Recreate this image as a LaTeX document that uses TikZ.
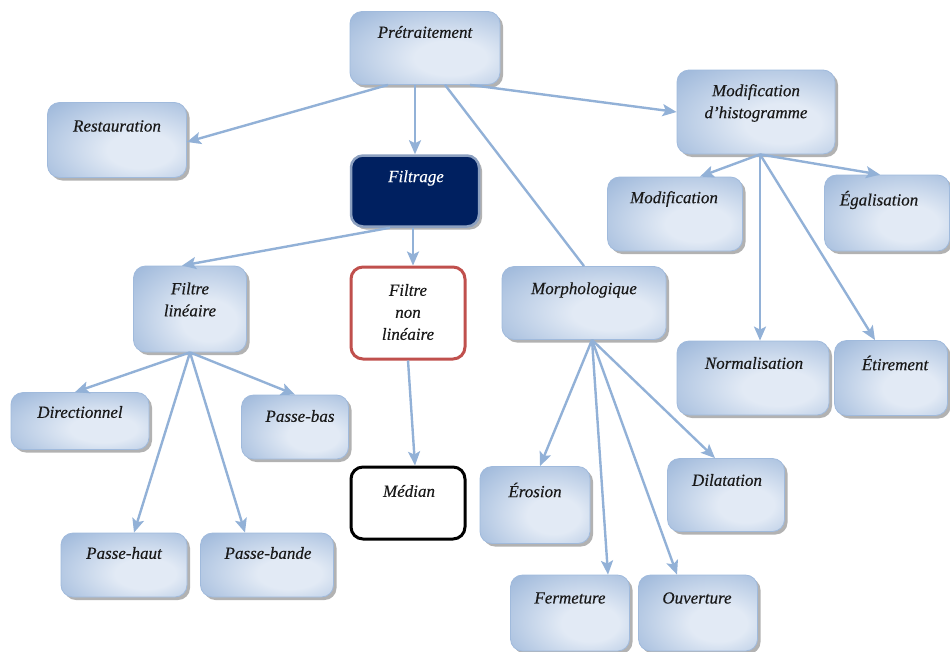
\documentclass[tikz,border=0pt]{standalone}
\usepackage{fontspec}
\setmainfont{Liberation Serif}[ItalicFeatures={FakeBold=0.35}]
\usetikzlibrary{shadows,arrows.meta}
\definecolor{boxout}{RGB}{136,168,210}
\definecolor{boxin}{RGB}{226,234,245}
\definecolor{boxline}{RGB}{160,186,220}
\definecolor{arrc}{RGB}{146,177,215}
\definecolor{navy}{RGB}{0,32,96}
\definecolor{navyline}{RGB}{140,160,192}
\definecolor{redb}{RGB}{192,80,77}
\pgfdeclareradialshading{boxshade}{\pgfpoint{10bp}{-8bp}}{color(0bp)=(boxin); color(12bp)=(boxin); color(50bp)=(boxout); color(80bp)=(boxout)}
\begin{document}
\begin{tikzpicture}[x=1pt,y=-1pt,
  bluebox/.style={rounded corners=12pt, shading=boxshade, draw=boxline, line width=0.8pt,
    drop shadow={shadow xshift=3pt,shadow yshift=-3pt,fill=black,opacity=0.3}, inner sep=0pt},
  navybox/.style={rounded corners=12pt, fill=navy, draw=navyline, line width=2.5pt,
    drop shadow={shadow xshift=3pt,shadow yshift=-3pt,fill=black,opacity=0.3}, inner sep=0pt},
  redbox/.style={rounded corners=12pt, fill=white, draw=redb, line width=3pt, inner sep=0pt},
  blackbox/.style={rounded corners=12pt, fill=white, draw=black, line width=3pt, inner sep=0pt},
  lbl/.style={font=\fontsize{17}{22}\selectfont\itshape, align=center, inner sep=0pt, text=black!90},
  arr/.style={draw=arrc, line width=2.4pt, -{Stealth[length=14pt,width=12pt,inset=3pt]}},
  plainline/.style={draw=arrc, line width=2.4pt}]
\useasboundingbox (0,0) rectangle (950,651);

% boxes
\node[bluebox, minimum width=150pt, minimum height=73pt] (pre) at (425,48) {};
\node[bluebox, minimum width=139pt, minimum height=75pt] (rest) at (117,140) {};
\node[navybox, minimum width=128pt, minimum height=71pt] (filt) at (415,191) {};
\node[bluebox, minimum width=158pt, minimum height=84pt] (modh) at (756,112) {};
\node[bluebox, minimum width=135pt, minimum height=74pt] (modif) at (675,214) {};
\node[bluebox, minimum width=125pt, minimum height=76pt] (egal) at (887,213) {};
\node[bluebox, minimum width=113pt, minimum height=86pt] (flin) at (190,309) {};
\node[redbox, minimum width=114pt, minimum height=92pt] (fnl) at (408,313) {};
\node[bluebox, minimum width=164pt, minimum height=73pt] (morph) at (584,303) {};
\node[bluebox, minimum width=138pt, minimum height=57pt] (dir) at (80,421) {};
\node[bluebox, minimum width=107pt, minimum height=64pt] (pbas) at (295,427) {};
\node[bluebox, minimum width=152pt, minimum height=74pt] (norm) at (753,378) {};
\node[bluebox, minimum width=113pt, minimum height=75pt] (etir) at (891,378) {};
\node[blackbox, minimum width=114pt, minimum height=72pt] (med) at (408,503) {};
\node[bluebox, minimum width=110pt, minimum height=77pt] (eros) at (535,505) {};
\node[bluebox, minimum width=117pt, minimum height=73pt] (dil) at (726,495) {};
\node[bluebox, minimum width=126pt, minimum height=64pt] (phaut) at (124,565) {};
\node[bluebox, minimum width=133pt, minimum height=64pt] (pband) at (267,565) {};
\node[bluebox, minimum width=119pt, minimum height=76pt] (ferm) at (570,613) {};
\node[bluebox, minimum width=119pt, minimum height=76pt] (ouv) at (698,613) {};

% labels
\node[lbl] (pre-t) at (425,32) {Prétraitement};
\node[lbl] (rest-t) at (117,126) {Restauration};
\node[lbl, text=white] (filt-t) at (416,178) {Filtrage};
\node[lbl] (modh-t) at (756,103) {Modification\\d'histogramme};
\node[lbl] (modif-t) at (674,199) {Modification};
\node[lbl] (egal-t) at (879,200) {Égalisation};
\node[lbl] (flin-t) at (190,299.5) {Filtre\\linéaire};
\node[lbl] (fnl-t) at (408,312) {Filtre\\non\\linéaire};
\node[lbl] (morph-t) at (584,290) {Morphologique};
\node[lbl] (dir-t) at (80,412) {Directionnel};
\node[lbl] (pbas-t) at (300,416) {Passe-bas};
\node[lbl] (norm-t) at (754,363) {Normalisation};
\node[lbl] (etir-t) at (895,363) {Étirement};
\node[lbl] (med-t) at (409,491) {Médian};
\node[lbl] (eros-t) at (535,490) {Érosion};
\node[lbl] (dil-t) at (727,480) {Dilatation};
\node[lbl] (phaut-t) at (124,553) {Passe-haut};
\node[lbl] (pband-t) at (268,553) {Passe-bande};
\node[lbl] (ferm-t) at (570,598) {Fermeture};
\node[lbl] (ouv-t) at (697,598) {Ouverture};

% connectors
\draw[arr] ([xshift=-37pt]pre.south) -- ([yshift=-2pt]rest.east);
\draw[arr] (filt.north |- pre.south) -- (filt.north);
\draw[plainline] ([xshift=20pt]pre.south) -- (morph.north);
\draw[arr] ([xshift=45pt]pre.south) -- (modh.west);
\draw[arr] ([xshift=-25pt]filt.south) -- ([xshift=-8pt]flin.north);
\draw[arr] ([xshift=-2pt]filt.south) -- ([xshift=5pt]fnl.north);
\draw[arr] (flin.south) -- ([xshift=-5pt]dir.north);
\draw[arr] (flin.south) -- (pbas.north);
\draw[arr] (flin.south) -- ([xshift=10pt]phaut.north);
\draw[arr] (flin.south) -- ([xshift=-22pt]pband.north);
\draw[arr] (fnl.south) -- ([xshift=7pt]med.north);
\draw[arr] ([xshift=8pt]morph.south) -- ([xshift=5pt]eros.north);
\draw[arr] ([xshift=8pt]morph.south) -- ([xshift=38pt]ferm.north);
\draw[arr] ([xshift=8pt]morph.south) -- ([xshift=-21pt]ouv.north);
\draw[arr] ([xshift=8pt]morph.south) -- ([xshift=-11pt]dil.north);
\draw[arr] ([xshift=4pt]modh.south) -- ([xshift=25pt]modif.north);
\draw[arr] ([xshift=4pt]modh.south) -- ([xshift=-7pt]egal.north);
\draw[arr] ([xshift=4pt]modh.south) -- ([xshift=7pt]norm.north);
\draw[arr] ([xshift=4pt]modh.south) -- ([xshift=-16pt]etir.north);
\end{tikzpicture}
\end{document}
